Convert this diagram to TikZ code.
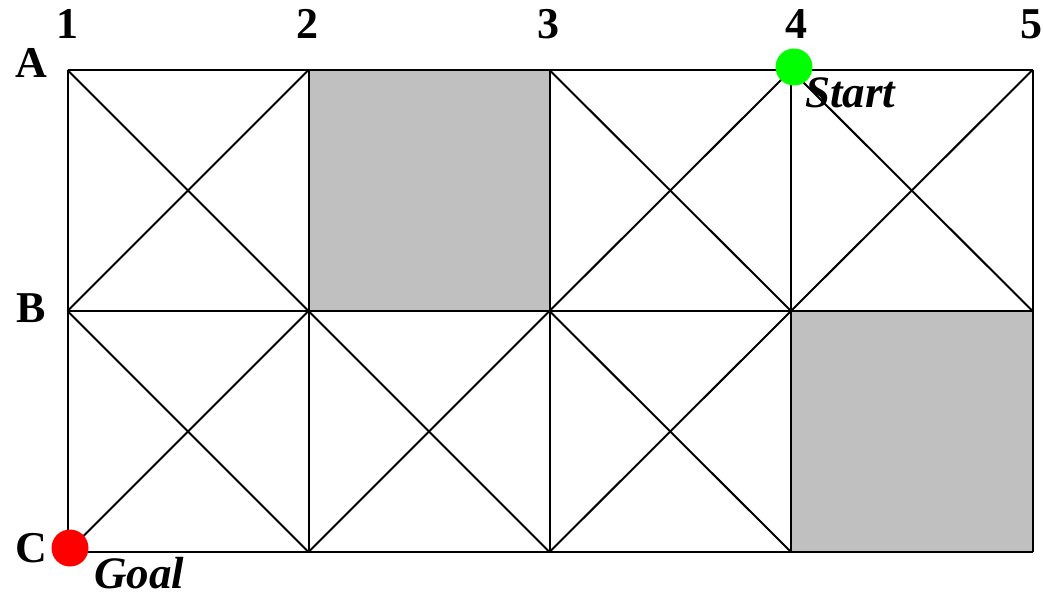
\documentclass[tikz,border=0pt]{standalone}
\usepackage{fontspec}
\setmainfont{Liberation Serif}
\begin{document}
\begin{tikzpicture}[x=1pt,y=-1pt,
  gridline/.style={line width=2pt,black},
  blocked/.style={fill={rgb,255:red,192;green,192;blue,192}},
  lbl/.style={font=\fontsize{44}{44}\selectfont\bfseries,inner sep=0pt},
  tag/.style={font=\fontsize{45}{45}\selectfont\bfseries\itshape,inner sep=0pt,anchor=base west},
  dot/.style={circle,inner sep=0pt,minimum size=37pt}]
\useasboundingbox (0,0) rectangle (1044,595);
% grid points
\foreach \c/\x in {1/67.5,2/308.5,3/549.5,4/791,5/1032.5}{
  \foreach \r/\y in {A/70,B/311,C/552}{
    \coordinate (\r\c) at (\x,\y);
  }
}
% gray blocked cells
\fill[blocked] (A2) rectangle (B3);
\fill[blocked] (B4) rectangle (C5);
% grid lines
\draw[gridline] (A1) -- (A5);
\draw[gridline] (B1) -- (B5);
\draw[gridline] (C1) -- (C5);
\foreach \c in {1,...,5}{\draw[gridline] (A\c) -- (C\c);}
% diagonals
\foreach \a/\b/\c/\d in {A1/B2/A2/B1, A3/B4/A4/B3, A4/B5/A5/B4,
  B1/C2/B2/C1, B2/C3/B3/C2, B3/C4/B4/C3}{
  \draw[gridline] (\a) -- (\b);
  \draw[gridline] (\c) -- (\d);
}
% labels
\foreach \c/\x in {1/67,2/307,3/548,4/796,5/1031}{
  \node[lbl] (n\c) at (\x,24) {\c};
}
\node[lbl] (lA) at (31,63) {A};
\node[lbl] (lB) at (31,308) {B};
\node[lbl] (lC) at (31,548) {C};
% start and goal
\node[dot,fill={rgb,255:red,0;green,255;blue,0}] (start) at (794,67) {};
\node[dot,fill={rgb,255:red,255;green,0;blue,0}] (goal) at (70,548) {};
\node[tag] (starttxt) at (805,107) {Start};
\node[tag] (goaltxt) at (94,588) {Goal};
\end{tikzpicture}
\end{document}
